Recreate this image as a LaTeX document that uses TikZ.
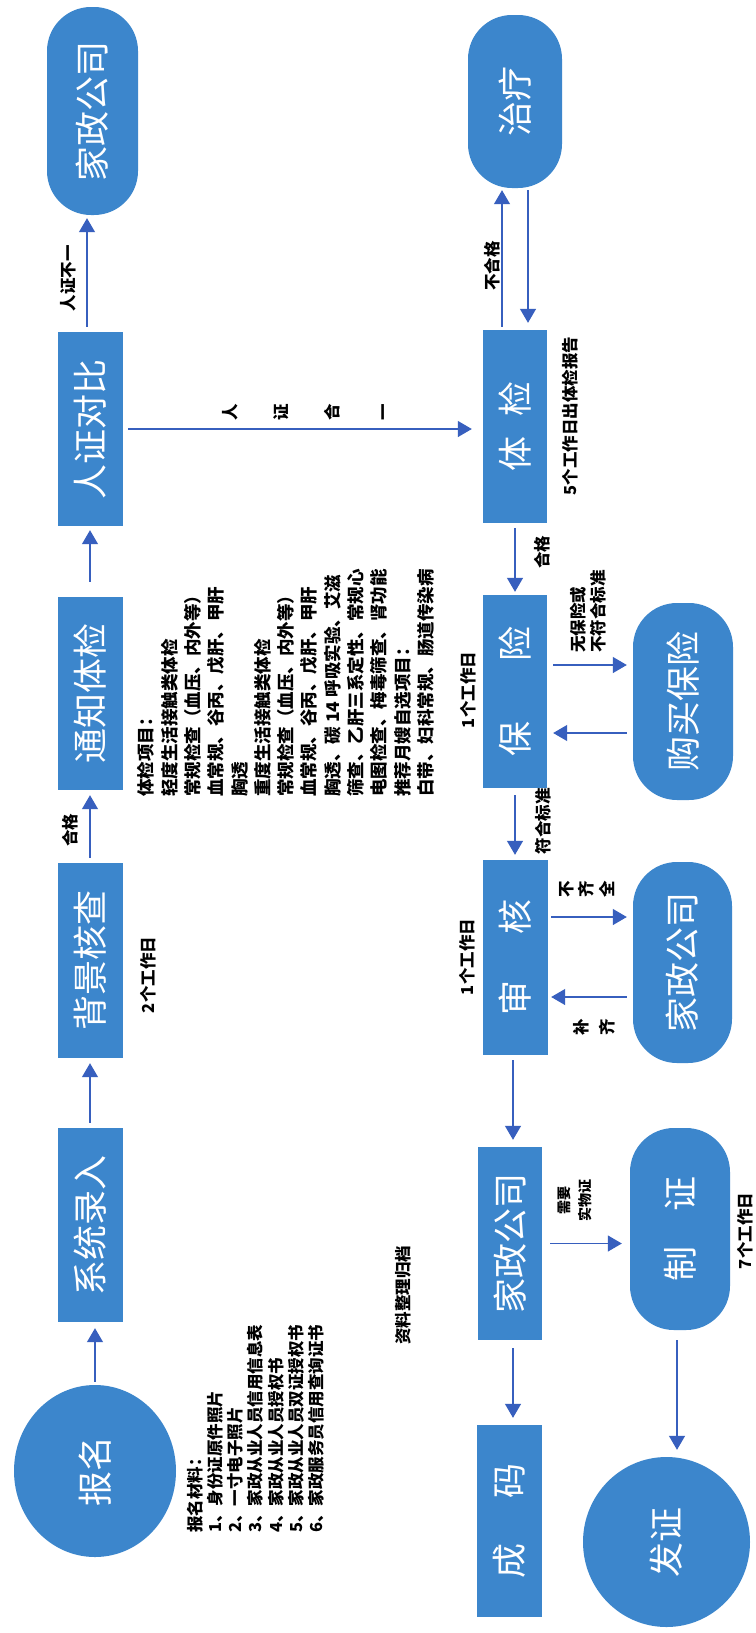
\documentclass[tikz,border=0pt]{standalone}
\usepackage{fontspec}
\setmainfont{Noto Sans CJK SC}
\usetikzlibrary{arrows.meta,shapes.geometric}
\definecolor{shapeblue}{RGB}{60,134,204}
\definecolor{arrowblue}{RGB}{55,95,190}
\newcommand\myrot[1]{\rotatebox{90}{#1}}
\tikzset{
  box/.style={draw=none, fill=shapeblue, inner sep=0pt, text=white,
    font=\fontsize{35}{40}\selectfont},
  rbox/.style={box, rounded corners=44pt},
  circ/.style={box, ellipse},
  lab/.style={inner sep=0pt, font=\fontsize{16.5}{19.5}\selectfont\bfseries},
  arr/.style={draw=arrowblue, line width=1.2pt, -{Triangle[length=14pt,width=16pt]}},
}
\begin{document}
\begin{tikzpicture}[x=1pt,y=-1pt]
\fill[white] (0,0) rectangle (755,1633);
\useasboundingbox (0,0) rectangle (755,1633);

% left column
\node[rbox, minimum width=91pt, minimum height=208pt] (jz1) at (92.5,111) {\myrot{家政公司}};
\node[box, minimum width=65pt, minimum height=194pt] (rzdb) at (90.5,429) {\myrot{人证对比}};
\node[box, minimum width=65pt, minimum height=193pt] (tzj) at (90.5,693.5) {\myrot{通知体检}};
\node[box, minimum width=65pt, minimum height=195pt] (bjhc) at (90.5,960.5) {\myrot{背景核查}};
\node[box, minimum width=65pt, minimum height=194pt] (xtlr) at (90.5,1225) {\myrot{系统录入}};
\node[circ, minimum width=162pt, minimum height=172pt] (bm) at (95,1471) {\myrot{报名}};

% right column
\node[rbox, minimum width=94pt, minimum height=173pt] (zl) at (515,101.5) {\myrot{治疗}};
\node[box, minimum width=64pt, minimum height=193pt] (tj) at (515,426.5) {\myrot{体\hspace{0.55em}检}};
\node[box, minimum width=64pt, minimum height=193pt] (bx) at (515,691.5) {\myrot{保\hspace{1.7em}险}};
\node[rbox, minimum width=100pt, minimum height=197pt] (gmbx) at (683,701.5) {\myrot{购买保险}};
\node[box, minimum width=65pt, minimum height=195pt] (sh) at (515.5,957.5) {\myrot{审\hspace{1.3em}核}};
\node[rbox, minimum width=99pt, minimum height=201pt] (jz2) at (682.5,962.5) {\myrot{家政公司}};
\node[box, minimum width=64pt, minimum height=193pt] (jz3) at (510,1243.5) {\myrot{家政公司}};
\node[box, minimum width=65pt, minimum height=192pt] (cm) at (509.5,1521) {\myrot{成\hspace{1.3em}码}};
\node[rbox, minimum width=100pt, minimum height=202pt] (zz) at (680,1229) {\myrot{制\hspace{1.0em}证}};
\node[circ, minimum width=167pt, minimum height=170pt] (fz) at (666.5,1542) {\myrot{发证}};

% labels
\node[lab] (l1) at (68,278) {\myrot{人证不一}};
\node[lab] (l2) at (70,830) {\myrot{合格}};
\node[lab] (l3) at (148,975) {\myrot{2个工作日}};
\node[lab] (l4) at (309,412) {\myrot{\begin{tabular}{@{}c@{}}人\\[31pt]证\\[31pt]合\\[31pt]一\end{tabular}}};
\node[lab] (l5) at (492,266) {\myrot{不合格}};
\node[lab] (l6) at (570,416) {\myrot{5个工作日出体检报告}};
\node[lab] (l7) at (542,552) {\myrot{合格}};
\node[lab] (l8) at (468,690) {\myrot{1个工作日}};
\node[lab, anchor=south] (l9) at (590,653) {\myrot{\begin{tabular}{@{}l@{}}无保险或\\不符合标准\end{tabular}}};
\node[lab] (l10) at (543,821) {\myrot{符合标准}};
\node[lab] (l11) at (467,957) {\myrot{1个工作日}};
\node[lab] (l12) at (589,889) {\myrot{\begin{tabular}{@{}c@{}}不\\齐\\全\end{tabular}}};
\node[lab] (l13) at (596,1027) {\myrot{\begin{tabular}{@{}c@{}}补\\[6pt]齐\end{tabular}}};
\node[lab, font=\fontsize{14}{21}\selectfont\bfseries] (l14) at (576,1200) {\myrot{\begin{tabular}{@{}c@{}}需要\\实物证\end{tabular}}};
\node[lab] (l15) at (745,1231) {\myrot{7个工作日}};
\node[lab] (l16) at (403,1295) {\myrot{资料整理归档}};

\node[lab, anchor=south, font=\fontsize{16.5}{20}\selectfont\bfseries] (bmcl) at (258,1533) {\myrot{\begin{tabular}{@{}l@{}}
报名材料：\\
1、身份证原件照片\\
2、一寸电子照片\\
3、家政从业人员信用信息表\\
4、家政从业人员授权书\\
5、家政从业人员双证授权书\\
6、家政服务员信用查询证书\end{tabular}}};

\node[lab, anchor=south, font=\fontsize{17.5}{23.3}\selectfont\bfseries] (tjxm) at (288,797) {\myrot{\begin{tabular}{@{}l@{}}
体检项目：\\
轻度生活接触类体检\\
常规检查（血压、内外等）\\
血常规、谷丙、戊肝、甲肝\\
胸透\\
重度生活接触类体检\\
常规检查（血压、内外等）\\
血常规、谷丙、戊肝、甲肝\\
胸透、碳 14 呼吸实验、艾滋\\
筛查、乙肝三系定性、常规心\\
电图检查、梅毒筛查、肾功能\\
推荐月嫂自选项目：\\
白带、妇科常规、肠道传染病\end{tabular}}};

% arrows
\draw[arr, shorten <=5pt, shorten >=3pt] ([xshift=-3.5pt]rzdb.north) -- ([xshift=-3.5pt]rzdb.north |- jz1.south);
\draw[arr, shorten <=15pt, shorten >=4pt] ([xshift=-0.5pt]tzj.north) -- ([xshift=-0.5pt]tzj.north |- rzdb.south);
\draw[arr, shorten <=5pt, shorten >=5pt] ([xshift=-0.5pt]bjhc.north) -- ([xshift=-0.5pt]bjhc.north |- tzj.south);
\draw[arr, shorten <=5pt, shorten >=5pt] ([xshift=-0.5pt]xtlr.north) -- ([xshift=-0.5pt]xtlr.north |- bjhc.south);
\draw[arr, shorten <=3pt, shorten >=6pt] (bm.north) -- (bm.north |- xtlr.south);
\draw[arr, shorten <=5pt, shorten >=11pt] (rzdb.east) -- (rzdb.east -| tj.west);
\draw[arr, shorten <=3pt, shorten >=2pt] ([xshift=-13pt]tj.north) -- ([xshift=-13pt]tj.north |- zl.south);
\draw[arr, shorten <=2pt, shorten >=7pt] ([xshift=13pt]tj.north |- zl.south) -- ([xshift=13pt]tj.north);
\draw[arr, shorten <=5pt, shorten >=3pt] (tj.south) -- (tj.south |- bx.north);
\draw[arr, shorten <=6pt, shorten >=6pt] ([yshift=26.5pt]bx.east) -- ([yshift=26.5pt]bx.east -| gmbx.west);
\draw[arr, shorten <=6pt, shorten >=6pt] ([yshift=-41.5pt]bx.east -| gmbx.west) -- ([yshift=-41.5pt]bx.east);
\draw[arr, shorten <=7pt, shorten >=5pt] (bx.south) -- (bx.south |- sh.north);
\draw[arr, shorten <=3pt, shorten >=6pt] ([yshift=40.5pt]sh.east) -- ([yshift=40.5pt]sh.east -| jz2.west);
\draw[arr, shorten <=6pt, shorten >=3pt] ([yshift=-39.5pt]sh.east -| jz2.west) -- ([yshift=-39.5pt]sh.east);
\draw[arr, shorten <=5pt, shorten >=7pt] ([xshift=-2.5pt]sh.south) -- ([xshift=-2.5pt]sh.south |- jz3.north);
\draw[arr, shorten <=8pt, shorten >=8pt] (jz3.east) -- (jz3.east -| zz.west);
\draw[arr, shorten <=10pt, shorten >=7pt] ([xshift=-3pt]zz.south) -- ([xshift=-3pt]zz.south |- fz.north);
\draw[arr, shorten <=8pt, shorten >=7pt] ([xshift=3pt]jz3.south) -- ([xshift=3pt]jz3.south |- cm.north);
\end{tikzpicture}
\end{document}
